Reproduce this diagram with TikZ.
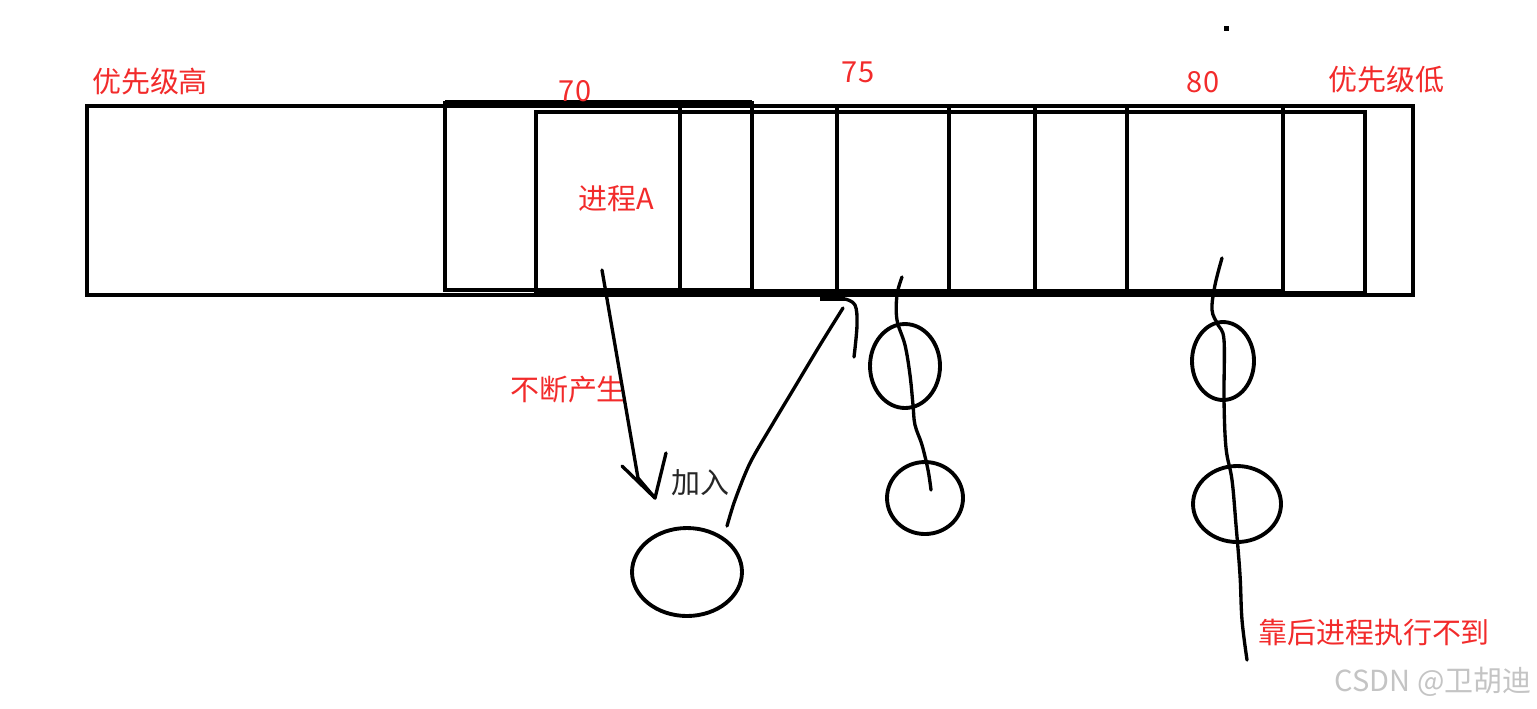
\documentclass[tikz,border=0pt]{standalone}
\usepackage{fontspec}
\setmainfont{Noto Sans CJK SC}
\usetikzlibrary{arrows.meta, shapes.geometric}
\definecolor{my_red}{HTML}{F22B2B}
\definecolor{my_ink}{HTML}{000000}
\definecolor{my_darkgray}{HTML}{262626}
\definecolor{my_lightgray}{HTML}{C4C4C4}
\newcommand{\labelfont}{\fontsize{16.5}{18}\selectfont}

\begin{document}
\begin{tikzpicture}[
    x=0.02cm, y=-0.02cm,
    box/.style={draw=my_ink, line width=2.3pt},
    heavy/.style={my_ink, line width=3.8pt},
    pen/.style={my_ink, line width=1.9pt, line cap=round, line join=round},
    blob/.style={draw=my_ink, ellipse, line width=2.2pt, inner sep=0pt},
    lbl/.style={text=my_red, font=\labelfont, inner sep=0pt}
]
\useasboundingbox (0,0) rectangle (1537,708);

% ---------------------------------------------------------------
%  Warteschlange nach Prioritaet, darunter die Ketten je Stufe
% ---------------------------------------------------------------

% ---- Rahmen ----
\draw[box] (87,106) rectangle (1413,295);
\draw[box] (445,103) rectangle (752,290);
\draw[heavy] (445,103) -- (752,103);
\draw[box] (536,112) rectangle (1365,293);
\draw[heavy] (536,292) -- (1283,292);
\foreach \xc in {680, 837, 949, 1035, 1127, 1283}
    \draw[box] (\xc,108) -- (\xc,292);

% ---- Beschriftung ----
\node[lbl] (high) at (150,82) {优先级高};
\node[lbl] (low) at (1386,80) {优先级低};
\node[lbl] (p70) at (575,91) {70};
\node[lbl] (p75) at (858,72) {75};
\node[lbl] (p80) at (1203,82) {80};
\node[lbl] (procA) at (616,199) {进程A};
\node[lbl] (spawn) at (568,390) {不断产生};
\node[lbl, text=my_darkgray] (join) at (700,483) {加入};
\node[lbl] (starve) at (1374,632) {靠后进程执行不到};
\node[lbl, text=my_lightgray] (mark) at (1433,682) {CSDN @卫胡迪};
\fill[my_ink] (1224,26) rectangle (1229,31);

% ---- Stufe 70: neuer Prozess ----
\node[blob, minimum width=2.2cm, minimum height=1.76cm] (newproc) at (687,572) {};
\coordinate (spawnTop) at (602,270);
\coordinate (spawnTip) at (655,498);
\draw[pen] (spawnTop) -- (638,478) -- (spawnTip);
\draw[pen] (622,466) -- (spawnTip) -- (666,453);
\coordinate (joinStart) at (727,526);
\coordinate (joinEnd) at (843,308);
\draw[pen] plot[smooth, tension=0.5] coordinates
    {(joinStart) (735,500) (750,463) (772,425) (793,390) (820,345) (joinEnd)};
\draw[heavy] (820,298) -- (845,298);
\draw[pen] plot[smooth, tension=0.6] coordinates
    {(845,299) (855,305) (857,325) (854,357)};

% ---- Stufe 75 ----
\node[blob, minimum width=1.4cm, minimum height=1.68cm] (q75a) at (905,366) {};
\node[blob, minimum width=1.52cm, minimum height=1.44cm] (q75b) at (925,498) {};
\draw[pen] plot[smooth, tension=0.6] coordinates
    {(902,277) (897,295) (897,320) (905,345) (910,375) (913,405)
     (915,425) (922,445) (928,470) (931,490)};

% ---- Stufe 80 ----
\node[blob, minimum width=1.24cm, minimum height=1.56cm] (q80a) at (1223,361) {};
\node[blob, minimum width=1.76cm, minimum height=1.52cm] (q80b) at (1237,504) {};
\draw[pen] plot[smooth, tension=0.6] coordinates
    {(1222,258) (1215,285) (1212,310) (1218,325) (1224,340) (1224,400)
     (1226,448) (1232,480) (1236,525) (1240,575) (1242,620) (1247,660)};

\end{tikzpicture}
\end{document}
